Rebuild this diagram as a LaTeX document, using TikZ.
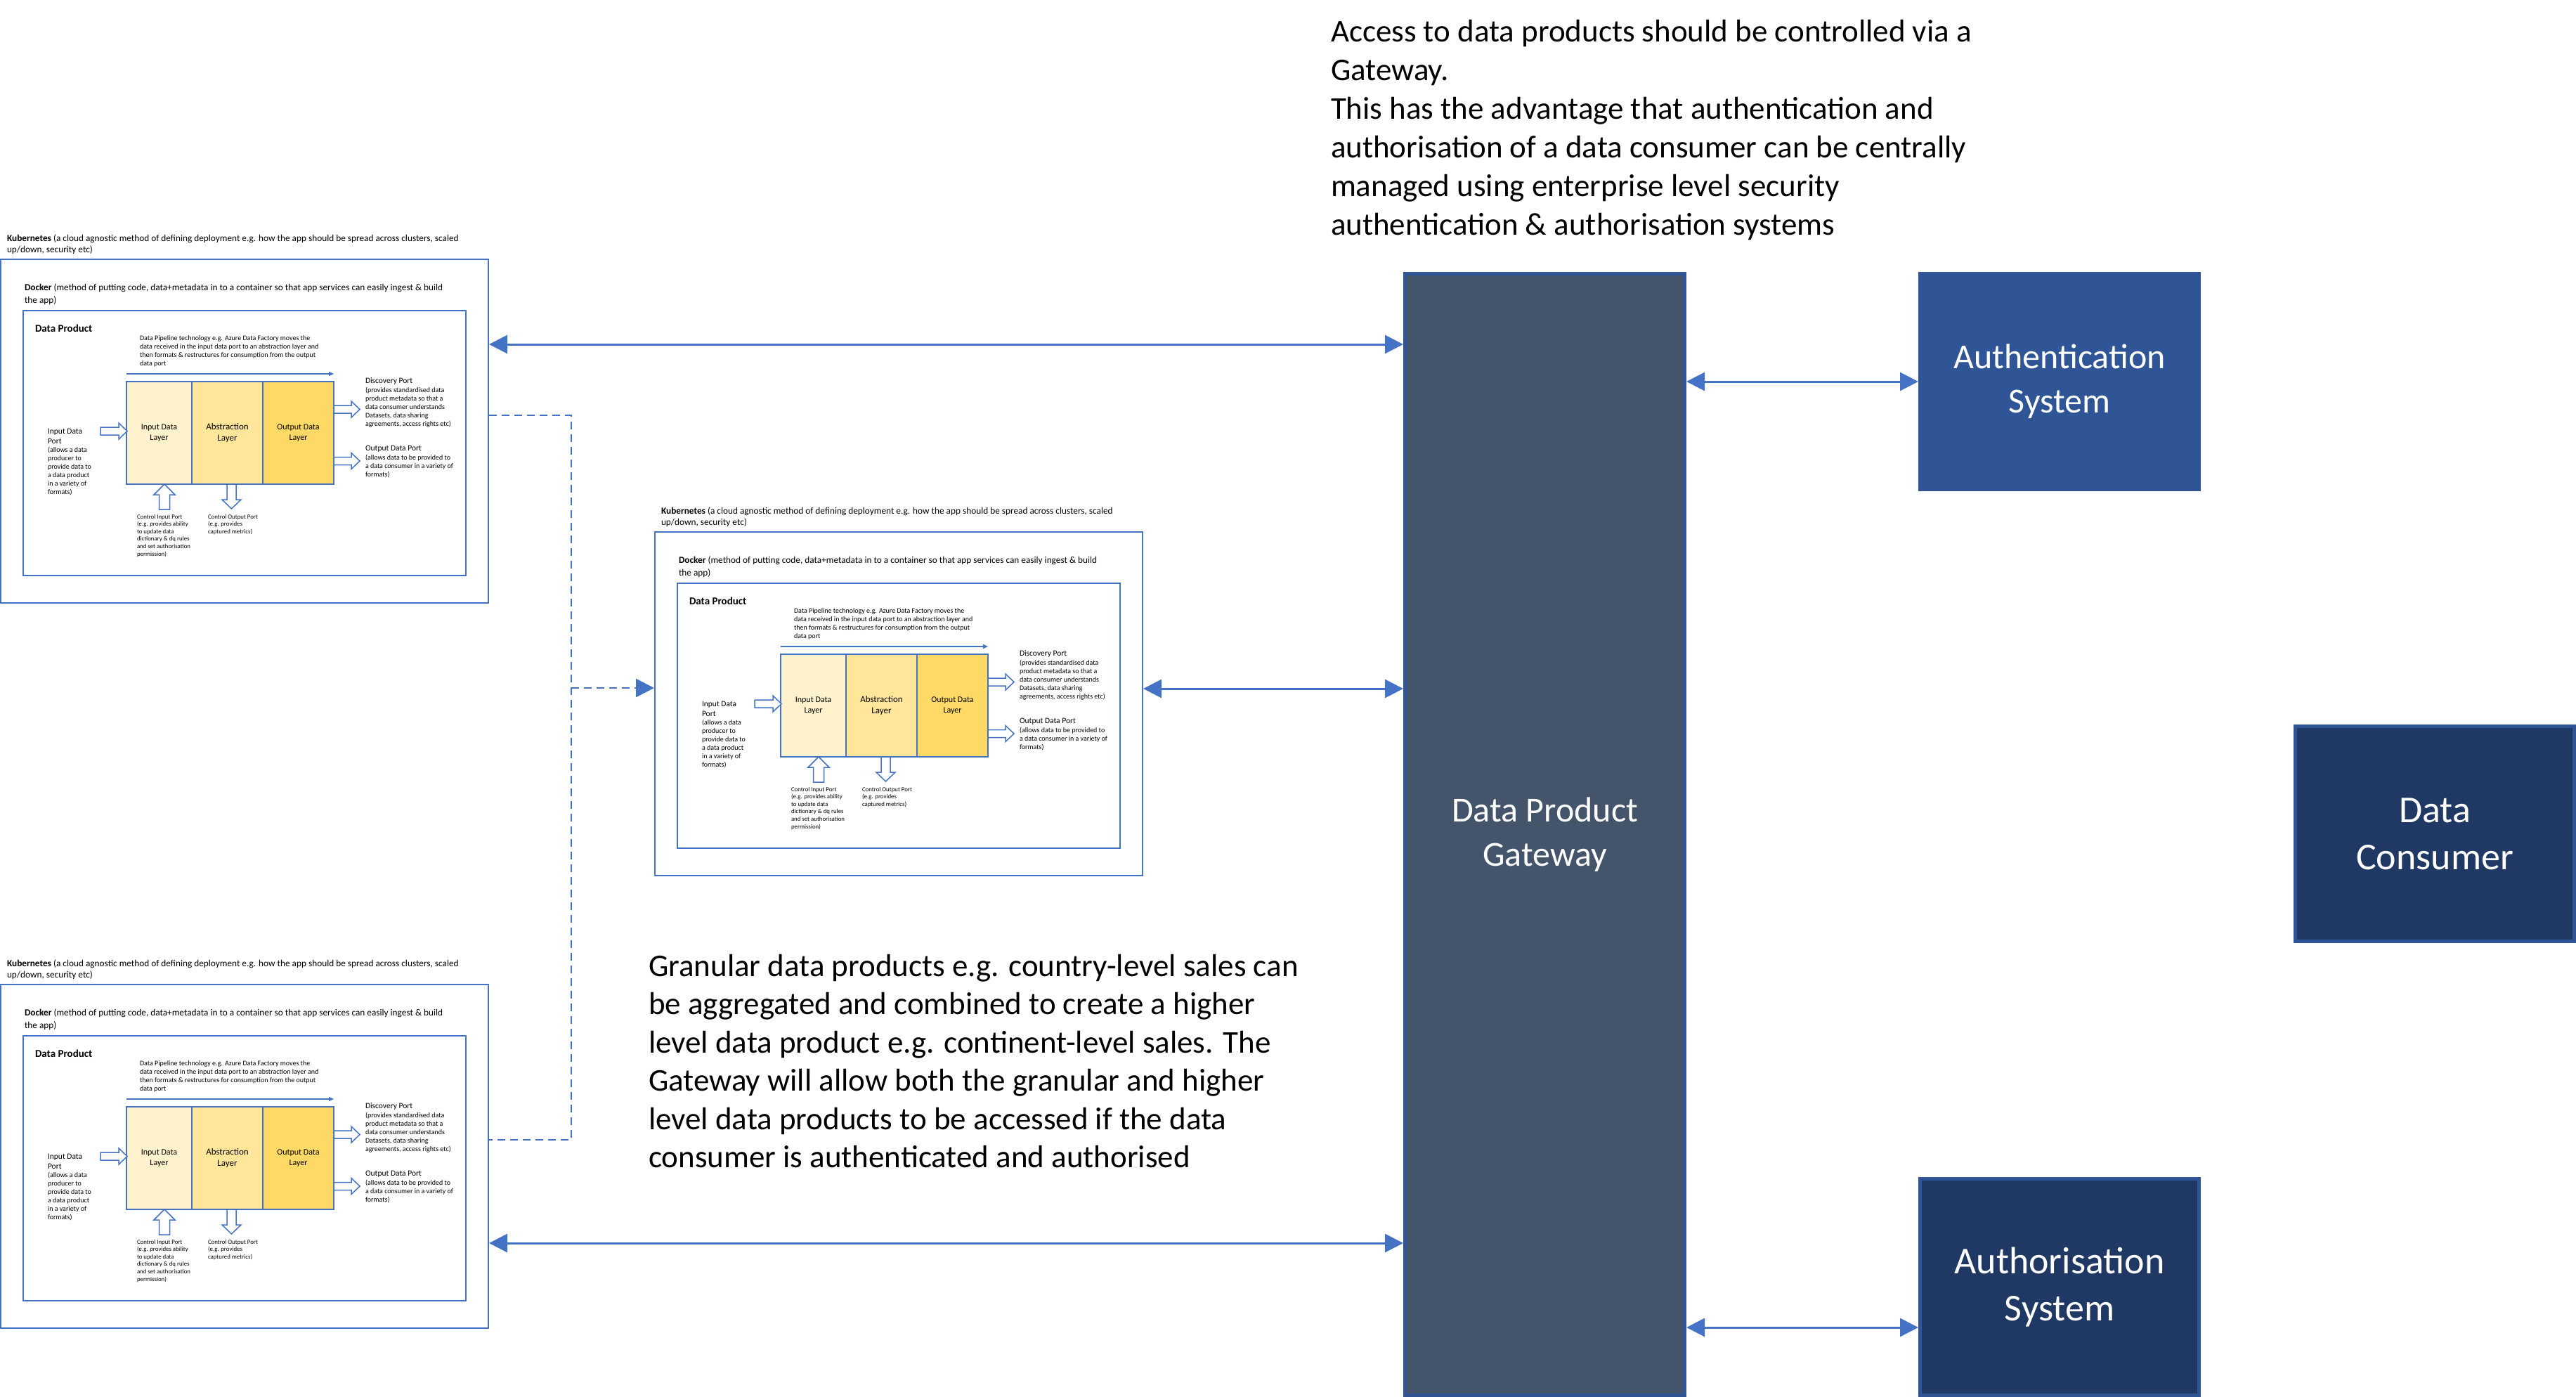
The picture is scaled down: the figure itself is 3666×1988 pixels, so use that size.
\documentclass[tikz,border=0pt]{standalone}
\usepackage{fontspec}
\setmainfont{Carlito}
\usetikzlibrary{arrows.meta}
\definecolor{blueln}{HTML}{4472C4}
\definecolor{darkbl}{HTML}{2F5597}
\definecolor{navybx}{HTML}{203864}
\definecolor{slatebx}{HTML}{44546A}
\definecolor{layA}{HTML}{FFF2CC}
\definecolor{layB}{HTML}{FFE699}
\definecolor{layC}{HTML}{FFD966}
\newcommand\fsz[2]{\fontsize{#1pt}{#2pt}\selectfont}
\newcommand\hollowR[3]{\draw[hollow] (#1,#3-5.5) -- (#2-12,#3-5.5) -- (#2-12,#3-11.5) -- (#2,#3) -- (#2-12,#3+11.5) -- (#2-12,#3+5.5) -- (#1,#3+5.5) -- cycle;}
\newcommand\hollowV[6]{\draw[hollow] (#1-#4,#2) -- (#1-#4,#6) -- (#1-#5,#6) -- (#1,#3) -- (#1+#5,#6) -- (#1+#4,#6) -- (#1+#4,#2) -- cycle;}
\tikzset{
  txt/.style={inner sep=0pt, outer sep=0pt, anchor=north west, align=left, text=black},
  kbox/.style={draw=blueln, line width=2pt, inner sep=0pt},
  layer/.style={draw=blueln, line width=2pt, inner sep=0pt, align=center, font=\fsz{12}{15}},
  hollow/.style={draw=blueln, line width=1.5pt, fill=white, line join=miter},
  pipearrow/.style={draw=blueln, line width=1.5pt, -{Triangle[length=7pt,width=6pt]}},
  conn/.style={draw=blueln, line width=3pt, {Triangle[length=26pt,width=26pt]}-{Triangle[length=26pt,width=26pt]}},
  dconn/.style={draw=blueln, line width=2.5pt, dash pattern=on 11pt off 7pt},
  bigbox/.style={line width=5pt, inner sep=0pt, align=center, text=white},
  dpblock/.pic={
    \node[kbox, minimum width=694pt, minimum height=489pt] (-outer) at (348,613.5) {};
    \node[txt, font=\fsz{13.3}{16}] (-kube) at (10,343-11.2) {\strut\textbf{Kubernetes} (a cloud agnostic method of defining deployment e.g. how the app should be spread across clusters, scaled\\up/down, security etc)};
    \node[kbox, minimum width=630pt, minimum height=377pt] (-docker) at (348,630.5) {};
    \node[txt, font=\fsz{13.3}{18}] (-dtext) at (35,413-12.6) {\strut\textbf{Docker} (method of putting code, data+metadata in to a container so that app services can easily ingest \& build\\the app)};
    \node[txt, anchor=base west, font=\bfseries\fsz{15}{18}] (-dp) at (50,472) {Data Product};
    \node[txt, font=\fsz{10}{12}] (-pipe) at (199,484-8.4) {\strut Data Pipeline technology e.g. Azure Data Factory moves the\\data received in the input data port to an abstraction layer and\\then formats \& restructures for consumption from the output\\data port};
    \draw[pipearrow] (180,532) -- (475,532);
    \node[layer, fill=layA, minimum width=93pt, minimum height=146pt] (-l1) at (226.5,616) {Input Data\\Layer};
    \node[layer, fill=layB, minimum width=101pt, minimum height=146pt, font=\fsz{13}{16}] (-l2) at (323.5,616) {Abstraction\\Layer};
    \node[layer, fill=layC, minimum width=101pt, minimum height=146pt] (-l3) at (424.5,616) {Output Data\\Layer};
    \hollowR{143}{181}{613.5}
    \hollowR{475}{512}{582.5}
    \hollowR{475}{512}{656}
    \hollowV{234}{725}{689}{7.5}{15}{704}
    \hollowV{329.5}{689}{724}{6.5}{13.5}{711}
    \node[txt, font=\fsz{11.5}{14}] (-inh) at (68,617-9.8) {\strut Input Data\\Port};
    \node[txt, font=\fsz{10}{12}] (-inb) at (68,643-8.4) {\strut(allows a data\\producer to\\provide data to\\a data product\\in a variety of\\formats)};
    \node[txt, font=\fsz{11.5}{14}] (-dsh) at (520,545-9.8) {\strut Discovery Port};
    \node[txt, font=\fsz{10}{12}] (-dsb) at (520,558-8.4) {\strut(provides standardised data\\product metadata so that a\\data consumer understands\\Datasets, data sharing\\agreements, access rights etc)};
    \node[txt, font=\fsz{11.5}{14}] (-odh) at (520,641-9.8) {\strut Output Data Port};
    \node[txt, font=\fsz{10}{12}] (-odb) at (520,654-8.4) {\strut(allows data to be provided to\\a data consumer in a variety of\\formats)};
    \node[txt, font=\fsz{8.8}{10.6}] (-cin) at (195,738-7.42) {\strut Control Input Port\\(e.g. provides ability\\to update data\\dictionary \& dq rules\\and set authorisation\\permission)};
    \node[txt, font=\fsz{8.8}{10.6}] (-cout) at (296,738-7.42) {\strut Control Output Port\\(e.g. provides\\captured metrics)};
  }
}
\begin{document}
\begin{tikzpicture}[x=1pt,y=-1pt]
\useasboundingbox (0,0) rectangle (3666,1988);
\pic (A) at (0,0) {dpblock};
\pic (B) at (931,388) {dpblock};
\pic (C) at (0,1032) {dpblock};

\node[bigbox, fill=slatebx, draw=darkbl, minimum width=398pt, minimum height=1596pt, font=\fsz{50}{63}] (gw) at (2198.5,1187.5) {Data Product\\Gateway};
\node[bigbox, fill=darkbl, draw=darkbl, minimum width=397pt, minimum height=307pt, font=\fsz{50}{63}] (authn) at (2931,543) {Authentication\\System};
\node[bigbox, fill=navybx, draw=darkbl, minimum width=397pt, minimum height=306pt, font=\fsz{54}{67}] (cons) at (3465,1186.5) {Data\\Consumer};
\node[bigbox, fill=navybx, draw=darkbl, minimum width=397pt, minimum height=308pt, font=\fsz{54}{67}] (authz) at (2931,1831.5) {Authorisation\\System};

\node[txt, font=\fsz{45}{55}] (note1) at (1894,59-38.5) {\strut Access to data products should be controlled via a\\Gateway.\\This has the advantage that authentication and\\authorisation of a data consumer can be centrally\\managed using enterprise level security\\authentication \& authorisation systems};
\node[txt, font=\fsz{45}{54.5}] (note2) at (923,1389-38.15) {\strut Granular data products e.g. country-level sales can\\be aggregated and combined to create a higher\\level data product e.g. continent-level sales. The\\Gateway will allow both the granular and higher\\level data products to be accessed if the data\\consumer is authenticated and authorised};

\coordinate (y1) at (0,490);
\coordinate (y2) at (0,980);
\coordinate (y3) at (0,1769);
\coordinate (y4) at (0,543);
\coordinate (y5) at (0,1889);
\draw[conn] (y1 -| A-outer.east) -- (y1 -| gw.west);
\draw[conn] (y2 -| B-outer.east) -- (y2 -| gw.west);
\draw[conn] (y3 -| C-outer.east) -- (y3 -| gw.west);
\draw[conn] (y4 -| gw.east) -- (y4 -| authn.west);
\draw[conn] (y5 -| gw.east) -- (y5 -| authz.west);

\coordinate (d1) at (813,591);
\coordinate (d2) at (813,1622);
\coordinate (dj) at (813,979);
\draw[dconn] (d1 -| A-outer.east) -- (d1) -- (d2) -- (d2 -| C-outer.east);
\draw[dconn, -{Triangle[length=26pt,width=26pt]}] (dj) -- (dj -| B-outer.west);
\end{tikzpicture}
\end{document}
